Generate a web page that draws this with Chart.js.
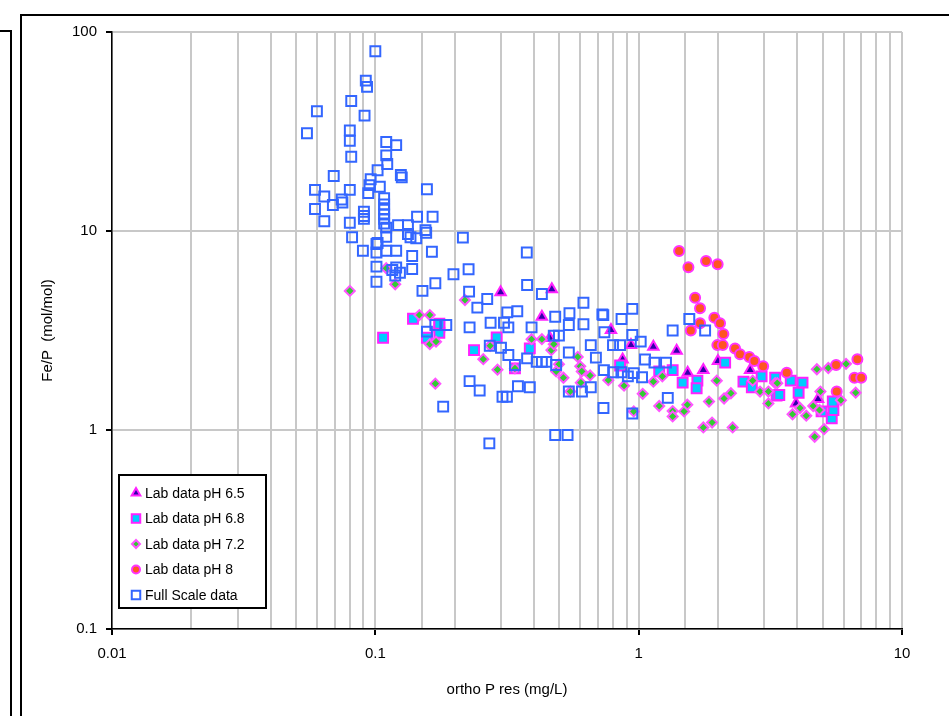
<!DOCTYPE html>
<html>
<head>
<meta charset="utf-8">
<script src="https://cdn.jsdelivr.net/npm/chart.js@4"></script>
<style>
  html, body { margin: 0; padding: 0; background: #fff; }
  body { width: 949px; height: 716px; position: relative; overflow: hidden; }
  #wrap { position: absolute; left: 0; top: 0; width: 949px; height: 716px; }
  .frame-main { position: absolute; left: 20px; top: 14px; width: 940px; height: 720px;
                border-left: 2px solid #000; border-top: 2px solid #000; }
  .frame-back { position: absolute; left: -2px; top: 30px; width: 12px; height: 700px;
                border-right: 2px solid #000; border-top: 2px solid #000; }
</style>
</head>
<body>
<div class="frame-back"></div>
<div class="frame-main"></div>
<div id="wrap"><canvas id="c" width="949" height="716"></canvas></div>
<script>
// ortho P res (mg/L) vs Fe/P (mol/mol)
const seriesNames = ['Lab data pH 6.5', 'Lab data pH 6.8', 'Lab data pH 7.2', 'Lab data pH 8', 'Full Scale data'];
const xTickLabels = ['0.01', '0.1', '1', '10'];
const yTickLabels = ['0.1', '1', '10', '100'];

const labPH65 = [
  [0.299, 4.92], [0.468, 5.09], [0.429, 3.71], [0.46, 2.9], [0.785, 3.18], [0.935, 2.67],
  [1.137, 2.62], [1.394, 2.50], [0.869, 2.26], [1.535, 1.94], [1.76, 2.0], [2.0, 2.22],
  [2.65, 2.0], [3.96, 1.36], [4.8, 1.43]
];

const labPH68 = [
  [0.107, 2.91], [0.139, 3.62], [0.175, 3.31], [0.175, 3.08], [0.157, 2.91], [0.175, 3.42],
  [0.237, 2.52], [0.289, 2.92], [0.386, 2.57], [0.339, 2.04], [0.85, 2.11], [1.197, 1.97],
  [1.346, 2.0], [1.469, 1.73], [1.671, 1.77], [1.66, 1.62], [2.13, 2.18], [2.5, 1.75],
  [2.69, 1.64], [2.93, 1.86], [3.3, 1.83], [3.34, 1.49], [3.78, 1.77], [4.19, 1.73],
  [4.05, 1.54], [3.42, 1.50], [4.95, 1.24], [5.41, 1.145], [5.49, 1.26], [5.46, 1.39]
];

const labPH72 = [
  [0.080, 5.0], [0.110, 6.5], [0.119, 5.4], [0.147, 3.78], [0.161, 3.78], [0.161, 2.70],
  [0.170, 2.78], [0.169, 1.71], [0.219, 4.5], [0.257, 2.27], [0.273, 2.65], [0.291, 2.01],
  [0.339, 2.04], [0.392, 2.86], [0.429, 2.86], [0.466, 2.52], [0.476, 2.70], [0.498, 2.14],
  [0.486, 1.97], [0.518, 1.83], [0.55, 1.56], [0.587, 2.33], [0.600, 2.09], [0.608, 1.97],
  [0.654, 1.88], [0.603, 1.73], [0.767, 1.78], [0.88, 1.67], [1.036, 1.52], [1.137, 1.75],
  [1.23, 1.86], [1.197, 1.32], [1.346, 1.245], [1.488, 1.24], [1.53, 1.34], [1.346, 1.17],
  [0.958, 1.24], [1.76, 1.03], [1.9, 1.09], [2.275, 1.03], [1.85, 1.39], [1.98, 1.77],
  [2.11, 1.44], [2.24, 1.53], [2.89, 1.56], [3.11, 1.56], [3.11, 1.36], [2.71, 1.77],
  [3.3, 1.72], [4.75, 2.02], [5.25, 2.05], [6.13, 2.15], [3.36, 1.72], [4.9, 1.56],
  [5.86, 1.41], [6.67, 1.54], [4.1, 1.29], [3.84, 1.20], [4.33, 1.18], [4.6, 1.32],
  [4.86, 1.26], [5.06, 1.01], [4.66, 0.925]
];

const labPH8 = [
  [1.424, 7.94], [1.545, 6.57], [1.803, 7.07], [1.995, 6.8], [1.638, 4.62], [1.71, 4.09],
  [1.71, 3.44], [1.578, 3.16], [1.938, 3.67], [2.037, 3.44], [2.097, 3.04], [1.99, 2.67],
  [2.086, 2.67], [2.323, 2.57], [2.426, 2.40], [2.63, 2.33], [2.75, 2.22], [2.97, 2.09],
  [3.65, 1.94], [5.62, 2.12], [6.77, 2.27], [6.6, 1.83], [7.0, 1.83], [5.65, 1.56]
];

const fullScale = [
  [0.100, 80], [0.092, 57], [0.093, 53], [0.081, 45], [0.060, 40], [0.091, 38],
  [0.055, 31], [0.080, 32], [0.080, 28.4], [0.110, 28], [0.120, 27], [0.081, 23.6],
  [0.110, 24], [0.111, 21.7], [0.102, 20.2], [0.125, 19.1], [0.126, 18.6], [0.0695, 18.9],
  [0.096, 18.2], [0.095, 17.0], [0.104, 16.7], [0.059, 16.1], [0.080, 16.1], [0.064, 14.9],
  [0.094, 15.5], [0.157, 16.2], [0.0745, 14.4], [0.108, 14.6], [0.069, 13.5], [0.075, 13.9],
  [0.059, 12.9], [0.064, 11.2], [0.080, 11.0], [0.0905, 12.5], [0.0905, 11.9], [0.0905, 11.5],
  [0.108, 13.6], [0.108, 12.8], [0.108, 12.1], [0.108, 11.5], [0.108, 10.9], [0.144, 11.8],
  [0.165, 11.8], [0.122, 10.7], [0.133, 10.7], [0.155, 10.1], [0.110, 10.4], [0.0816, 9.3],
  [0.102, 8.7], [0.110, 9.36], [0.133, 9.66], [0.136, 9.3], [0.143, 9.2], [0.156, 9.8],
  [0.0897, 7.96], [0.101, 8.6], [0.101, 7.8], [0.110, 7.96], [0.120, 7.96], [0.138, 7.49],
  [0.138, 6.44], [0.164, 7.87], [0.101, 6.62], [0.101, 5.56], [0.116, 6.37], [0.120, 6.55],
  [0.124, 6.17], [0.119, 5.98], [0.169, 5.46], [0.151, 5.0], [0.215, 9.26], [0.226, 6.42],
  [0.198, 6.06], [0.376, 7.8], [0.227, 4.96], [0.377, 5.35], [0.429, 4.82], [0.266, 4.55],
  [0.244, 4.12], [0.617, 4.36], [0.728, 3.81], [0.317, 3.90], [0.346, 3.95], [0.482, 3.71],
  [0.546, 3.86], [0.274, 3.46], [0.308, 3.46], [0.320, 3.28], [0.228, 3.28], [0.392, 3.28],
  [0.543, 3.37], [0.617, 3.40], [0.741, 3.10], [0.157, 3.12], [0.169, 3.37], [0.186, 3.37],
  [0.272, 2.65], [0.300, 2.59], [0.320, 2.38], [0.339, 2.12], [0.377, 2.29], [0.410, 2.20],
  [0.429, 2.20], [0.446, 2.20], [0.476, 2.98], [0.498, 2.98], [0.486, 2.12], [0.543, 2.45],
  [0.543, 1.56], [0.609, 1.56], [0.658, 2.67], [0.688, 2.31], [0.738, 2.00], [0.658, 1.64],
  [0.735, 1.29], [0.228, 1.76], [0.249, 1.58], [0.181, 1.31], [0.304, 1.47], [0.316, 1.47],
  [0.348, 1.66], [0.386, 1.64], [0.271, 0.857], [0.482, 0.944], [0.537, 0.944], [0.946, 4.06],
  [0.861, 3.61], [0.734, 3.78], [0.946, 3.0], [1.018, 2.78], [0.799, 2.67], [0.850, 2.67],
  [1.557, 3.61], [1.788, 3.16], [1.346, 3.16], [1.057, 2.26], [1.148, 2.18], [1.27, 2.18],
  [0.80, 1.95], [0.86, 1.95], [0.958, 1.93], [1.03, 1.84], [0.91, 1.86], [1.29, 1.45],
  [0.946, 1.21]
];

const toPoints = arr => arr.map(p => ({ x: p[0], y: p[1] }));

const datasets = [
  { label: seriesNames[0], data: toPoints(labPH65), pointStyle: 'triangle', pointRadius: 6,
    backgroundColor: '#3300aa', borderColor: '#ff22ff', borderWidth: 2, order: 5 },
  { label: seriesNames[1], data: toPoints(labPH68), pointStyle: 'rect', pointRadius: 7,
    backgroundColor: '#00ccff', borderColor: '#ff22ff', borderWidth: 2, order: 4 },
  { label: seriesNames[2], data: toPoints(labPH72), pointStyle: 'rectRot', pointRadius: 5,
    backgroundColor: '#33cc33', borderColor: '#ff55ff', borderWidth: 2, order: 3 },
  { label: seriesNames[3], data: toPoints(labPH8), pointStyle: 'circle', pointRadius: 5,
    backgroundColor: '#ff5522', borderColor: '#ff33ff', borderWidth: 2, order: 2 },
  { label: seriesNames[4], data: toPoints(fullScale), pointStyle: 'rect', pointRadius: 7,
    backgroundColor: 'rgba(255,255,255,0)', borderColor: '#3366ff', borderWidth: 2, order: 1 }
];

const isDecade = v => Math.abs(Math.log10(v) - Math.round(Math.log10(v))) < 1e-6;

const legendBox = {
  id: 'legendBox',
  afterDraw(chart) {
    const ctx = chart.ctx;
    const x0 = 119, y0 = 475, w = 147, h = 133;
    ctx.save();
    ctx.fillStyle = '#fff';
    ctx.fillRect(x0, y0, w, h);
    ctx.strokeStyle = '#000';
    ctx.lineWidth = 2;
    ctx.strokeRect(x0, y0, w, h);
    ctx.font = '14px "Liberation Sans", Arial, sans-serif';
    ctx.textBaseline = 'middle';
    chart.data.datasets.forEach((ds, i) => {
      const cy = y0 + 18 + i * 25.5;
      const cx = x0 + 17;
      ctx.fillStyle = ds.backgroundColor;
      ctx.strokeStyle = ds.borderColor;
      ctx.lineWidth = ds.borderWidth;
      Chart.helpers.drawPoint(ctx, { pointStyle: ds.pointStyle, rotation: 0,
        radius: ds.pointRadius - 1, borderWidth: ds.borderWidth }, cx, cy);
      ctx.fillStyle = '#000';
      ctx.fillText(ds.label, x0 + 26, cy + 1);
    });
    ctx.restore();
  }
};

new Chart(document.getElementById('c'), {
  type: 'scatter',
  data: { datasets },
  options: {
    responsive: false,
    animation: false,
    events: [],
    layout: { padding: { left: 0, top: 32, right: 47, bottom: 0 } },
    plugins: { legend: { display: false }, tooltip: { enabled: false } },
    scales: {
      x: {
        type: 'logarithmic', min: 0.01, max: 10,
        afterFit(scale) { scale.height = 87; },
        border: { color: '#000', width: 1.5 },
        grid: {
          color: '#c8c8c8', lineWidth: 2, tickLength: 6,
          tickColor: ctx => (ctx.tick && isDecade(ctx.tick.value)) ? '#000' : 'rgba(0,0,0,0)'
        },
        ticks: {
          autoSkip: false, maxRotation: 0, padding: 10, color: '#000',
          font: { family: '"Liberation Sans", Arial, sans-serif', size: 15 },
          callback: v => isDecade(v) ? xTickLabels[Math.round(Math.log10(v)) + 2] : ''
        },
        title: {
          display: true, text: 'ortho P res (mg/L)', color: '#000',
          font: { family: '"Liberation Sans", Arial, sans-serif', size: 15 },
          padding: { top: 0, bottom: 17 }
        }
      },
      y: {
        type: 'logarithmic', min: 0.1, max: 100,
        afterFit(scale) { scale.width = 112; },
        border: { color: '#000', width: 1.5 },
        grid: {
          lineWidth: 2, tickLength: 6,
          color: ctx => (ctx.tick && isDecade(ctx.tick.value)) ? '#c8c8c8' : 'rgba(0,0,0,0)',
          tickColor: ctx => (ctx.tick && isDecade(ctx.tick.value)) ? '#000' : 'rgba(0,0,0,0)'
        },
        ticks: {
          autoSkip: false, padding: 9, color: '#000',
          font: { family: '"Liberation Sans", Arial, sans-serif', size: 15 },
          callback: v => isDecade(v) ? yTickLabels[Math.round(Math.log10(v)) + 1] : ''
        },
        title: {
          display: true, text: 'Fe/P  (mol/mol)', color: '#000',
          font: { family: '"Liberation Sans", Arial, sans-serif', size: 15 },
          padding: { top: 39, bottom: 0 }
        }
      }
    }
  },
  plugins: [legendBox]
});
</script>
</body>
</html>
